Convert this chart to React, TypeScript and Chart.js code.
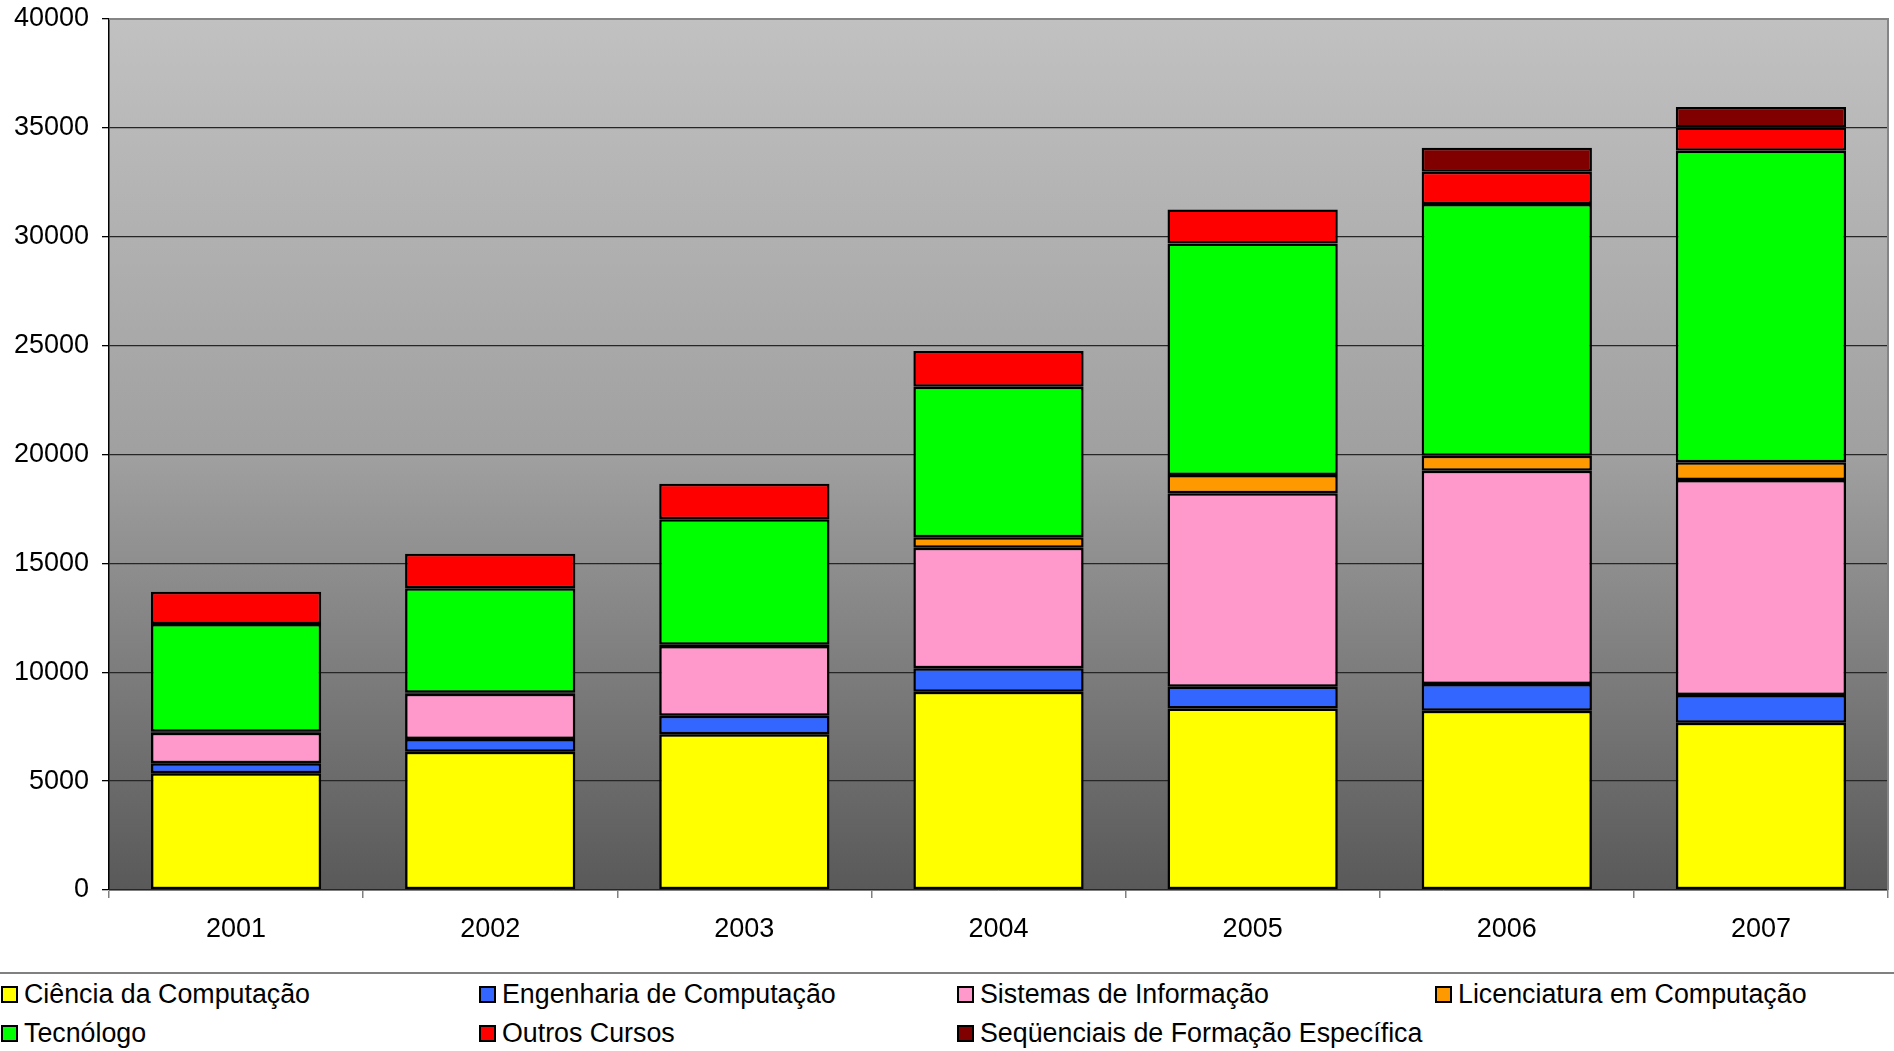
import React, { useEffect, useRef } from "react";
import { Chart, registerables } from "chart.js";

Chart.register(...registerables);

const years = ["2001", "2002", "2003", "2004", "2005", "2006", "2007"];
const cienciaComputacao = [5360, 6350, 7150, 9105, 8340, 8235, 7685];
const engenhariaComputacao = [460, 585, 855, 1075, 995, 1225, 1270];
const sistemasInformacao = [1405, 2080, 3200, 5540, 8880, 9795, 9875];
const licenciaturaComputacao = [40, 40, 60, 475, 840, 690, 810];
const tecnologo = [4950, 4800, 5760, 6920, 10640, 11555, 14310];
const outrosCursos = [1485, 1590, 1635, 1640, 1560, 1485, 1070];
const sequenciais = [null, null, null, null, null, 1100, 935];

const seriesNames = [
  "Ciência da Computação",
  "Engenharia de Computação",
  "Sistemas de Informação",
  "Licenciatura em Computação",
  "Tecnólogo",
  "Outros Cursos",
  "Seqüenciais de Formação Específica",
];
const seriesColors = ["#FFFF00", "#3366FF", "#FF99CC", "#FF9900", "#00FF00", "#FF0000", "#800000"];
const seriesData = [
  cienciaComputacao,
  engenhariaComputacao,
  sistemasInformacao,
  licenciaturaComputacao,
  tecnologo,
  outrosCursos,
  sequenciais,
];
const yTicks = [0, 5000, 10000, 15000, 20000, 25000, 30000, 35000, 40000];

const FONT = '"Liberation Sans", Arial, Helvetica, sans-serif';
const CANVAS_W = 1894;
const CANVAS_H = 972;

const bgPlugin = {
  id: "bgPlugin",
  beforeDraw(chart: any) {
    const { ctx, chartArea } = chart;
    if (!chartArea) return;
    const g = ctx.createLinearGradient(0, chartArea.top, 0, chartArea.bottom);
    g.addColorStop(0, "#c1c1c1");
    g.addColorStop(0.5, "#a0a0a0");
    g.addColorStop(1, "#595959");
    ctx.save();
    ctx.fillStyle = g;
    ctx.fillRect(chartArea.left, chartArea.top, chartArea.right - chartArea.left, chartArea.bottom - chartArea.top);
    ctx.restore();
  },
  afterDatasetsDraw(chart: any) {
    const { ctx, chartArea } = chart;
    ctx.save();
    ctx.strokeStyle = "#858585";
    ctx.lineWidth = 2;
    ctx.beginPath();
    ctx.moveTo(chartArea.left, chartArea.top);
    ctx.lineTo(chartArea.right, chartArea.top);
    ctx.lineTo(chartArea.right, chartArea.bottom);
    ctx.stroke();
    ctx.restore();
  },
};

export default function App() {
  const canvasRef = useRef<HTMLCanvasElement | null>(null);

  useEffect(() => {
    document.body.style.margin = "0";
    const canvas = canvasRef.current;
    if (!canvas) return;
    const chart = new Chart(canvas, {
      type: "bar",
      data: {
        labels: years,
        datasets: seriesNames.map((name, i) => ({
          label: name,
          data: seriesData[i] as any,
          backgroundColor: seriesColors[i],
          borderColor: "#000000",
          borderWidth: 2.5,
          borderSkipped: false,
          categoryPercentage: 1,
          barPercentage: 0.67,
        })),
      },
      options: {
        responsive: false,
        animation: false,
        maintainAspectRatio: false,
        layout: { padding: { top: 19, right: 6, left: 0, bottom: 0 } },
        plugins: {
          legend: { display: false },
          tooltip: { enabled: false },
        },
        scales: {
          x: {
            stacked: true,
            afterFit(scale: any) {
              scale.height = CANVAS_H - 890;
            },
            grid: {
              offset: true,
              drawOnChartArea: false,
              drawTicks: true,
              tickLength: 8,
              color: "#808080",
              lineWidth: 1.5,
            },
            border: { display: true, color: "#808080", width: 1 },
            ticks: {
              color: "#000000",
              padding: 15,
              font: { family: FONT, size: 27 },
              maxRotation: 0,
            },
          },
          y: {
            stacked: true,
            min: 0,
            max: 40000,
            afterFit(scale: any) {
              scale.width = 109;
              scale.paddingTop = 0;
              scale.paddingBottom = 0;
            },
            afterBuildTicks(scale: any) {
              scale.ticks = yTicks.map((v) => ({ value: v }));
            },
            grid: {
              color: "#262626",
              lineWidth: 1.3,
              drawTicks: true,
              tickLength: 7,
              tickColor: "#000000",
            },
            border: { display: true, color: "#000000", width: 1.5 },
            ticks: {
              color: "#000000",
              padding: 13,
              font: { family: FONT, size: 27 },
              callback: (v: any) => String(v),
            },
          },
        },
      },
      plugins: [bgPlugin],
    });
    return () => chart.destroy();
  }, []);

  const legendCols = [0, 478, 956, 1434];

  return (
    <div style={{ position: "absolute", left: 0, top: 0, width: CANVAS_W, height: 1051, background: "#fff", fontFamily: FONT }}>
      <canvas ref={canvasRef} width={CANVAS_W} height={CANVAS_H} style={{ display: "block", width: CANVAS_W, height: CANVAS_H }} />
      <div style={{ position: "absolute", left: 0, top: 972, width: CANVAS_W, height: 2, background: "#808080" }} />
      {seriesNames.map((name, i) => {
        const col = i % 4;
        const row = Math.floor(i / 4);
        const cy = row === 0 ? 994 : 1033;
        return (
          <div
            key={name}
            style={{
              position: "absolute",
              left: legendCols[col] + 1,
              top: cy - 16,
              height: 32,
              display: "flex",
              alignItems: "center",
              whiteSpace: "nowrap",
            }}
          >
            <span
              style={{
                display: "inline-block",
                width: 13,
                height: 13,
                border: "2px solid #000",
                background: seriesColors[i],
                marginRight: 6,
              }}
            />
            <span style={{ fontSize: 26.8, color: "#000", lineHeight: "32px" }}>{name}</span>
          </div>
        );
      })}
    </div>
  );
}
